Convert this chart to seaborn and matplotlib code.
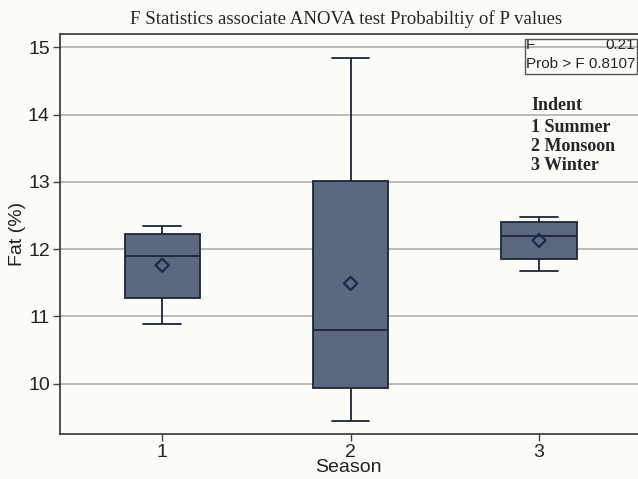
import numpy as np
import pandas as pd
import matplotlib
matplotlib.use("Agg")
import matplotlib.pyplot as plt
from matplotlib.patches import Rectangle
import seaborn as sns

seasons = ["1", "2", "3"]
whisker_low = [10.89, 9.45, 11.68]
q1 = [11.28, 9.94, 11.86]
median = [11.90, 10.80, 12.19]
q3 = [12.23, 13.02, 12.41]
whisker_high = [12.35, 14.84, 12.48]
means = [11.76, 11.49, 12.13]

title = "F Statistics associate ANOVA test Probabiltiy of P values"
stats_lines = ["F", "0.21", "Prob > F 0.8107"]
legend_title = "Indent"
legend_items = ["1 Summer", "2 Monsoon", "3 Winter"]

rows = []
for i, s in enumerate(seasons):
    for v in (whisker_low[i], q1[i], median[i], q3[i], whisker_high[i]):
        rows.append({"Season": s, "Fat": v})
df = pd.DataFrame(rows)
mdf = pd.DataFrame({"Season": seasons, "Fat": means})

sns.set_theme(style="white")
plt.rcParams["font.family"] = ["Liberation Sans", "DejaVu Sans"]
bg = "#fcfcf8"
fig = plt.figure(figsize=(6.38, 4.79), dpi=100, facecolor=bg)
ax = fig.add_axes([59.5 / 638, 1 - 434 / 479, 1 - 59.5 / 638, (434 - 34) / 479])
ax.set_facecolor(bg)

for y in range(10, 16):
    ax.axhline(y, color="#a8a8a8", lw=1.1, zorder=0)

sns.boxplot(data=df, x="Season", y="Fat", order=seasons, whis=(0, 100),
            width=0.4, color="#5c6880", linecolor="#1c2638", linewidth=1.3,
            saturation=1, ax=ax, zorder=2)
sns.scatterplot(data=mdf, x="Season", y="Fat", marker="D", s=45,
                facecolor="none", edgecolor="#1c2a4a", linewidth=1.6,
                ax=ax, zorder=5)

ax.set_xlim(-0.545, 2.525)
ax.set_ylim(9.25, 15.2)
ax.set_yticks([10, 11, 12, 13, 14, 15])
ax.tick_params(axis="both", which="both", direction="out", length=5,
               width=1, color="#444444", labelsize=14, pad=2,
               left=True, bottom=True, labelcolor="#222222")
for sp in ["left", "bottom", "top"]:
    ax.spines[sp].set_color("#333333")
    ax.spines[sp].set_linewidth(1.2)
ax.spines["right"].set_visible(False)

ax.set_xlabel("Season", fontsize=14, labelpad=-1, color="#222222")
ax.set_ylabel("Fat (%)", fontsize=14, color="#222222")
ax.yaxis.set_label_coords(-0.058, 0.5)

fig.text(346 / 638, 1 - 19 / 479, title, ha="center", va="center",
         family="Liberation Serif", fontsize=13.6)

# stats box
fs = 11
ax.text(0.806, 0.99, stats_lines[0], transform=ax.transAxes, ha="left", va="top",
        fontsize=fs)
ax.text(0.995, 0.99, stats_lines[1], transform=ax.transAxes, ha="right", va="top",
        fontsize=fs)
ax.text(0.806, 0.942, stats_lines[2], transform=ax.transAxes, ha="left", va="top",
        fontsize=fs)
fig.patches.append(Rectangle((524.5 / 638, 1 - 73.5 / 479), (636.5 - 524.5) / 638,
                             (73.5 - 38.5) / 479, transform=fig.transFigure,
                             fill=False, edgecolor="#555555", lw=1.0, zorder=10))

fig.text(531 / 638, 1 - 106 / 479, legend_title, ha="left", va="center",
         family="Liberation Serif", fontweight="bold", fontsize=13)
for k, item in enumerate(legend_items):
    fig.text(531 / 638, 1 - (128 + 18.5 * k) / 479, item, ha="left", va="center",
             family="Liberation Serif", fontweight="bold", fontsize=13)

fig.savefig("out.png", dpi=100, facecolor=bg)
